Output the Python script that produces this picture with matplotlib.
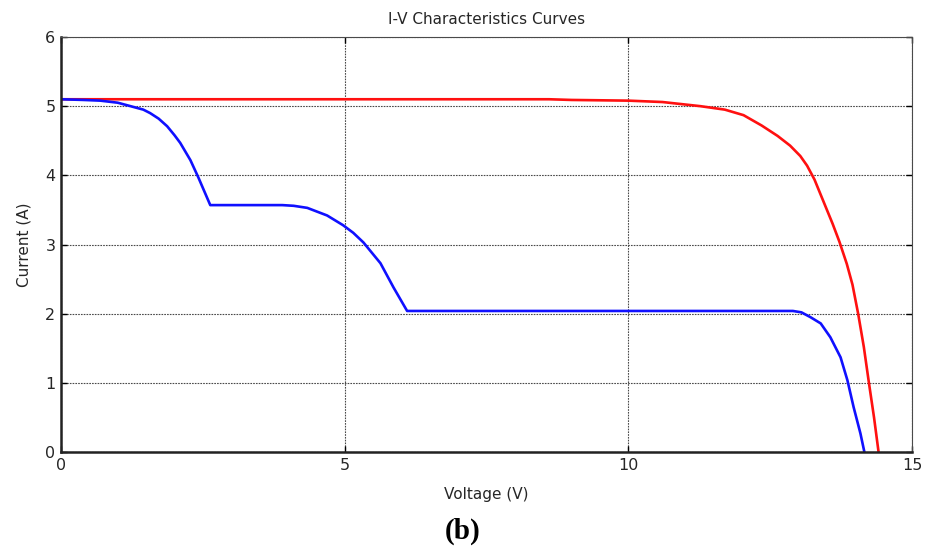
import matplotlib.pyplot as plt

# uniform-irradiance curve (red)
v_red = [0, 2, 4, 6, 8, 8.6, 9.0, 10.0, 10.6, 11.27, 11.7, 12.03, 12.35, 12.63,
         12.85, 13.03, 13.15, 13.28, 13.44, 13.6, 13.72, 13.85, 13.95, 14.05,
         14.15, 14.24, 14.33, 14.41]
i_red = [5.1, 5.1, 5.1, 5.1, 5.1, 5.1, 5.09, 5.08, 5.06, 5.0, 4.95, 4.87, 4.72, 4.57,
         4.43, 4.28, 4.14, 3.94, 3.62, 3.3, 3.04, 2.72, 2.42, 2.0,
         1.52, 1.0, 0.5, 0.0]

# partially shaded curve (blue)
v_blue = [0, 0.4, 0.69, 1.0, 1.27, 1.45, 1.57, 1.72, 1.87, 2.0, 2.1, 2.28, 2.42, 2.63,
          3.9, 4.1, 4.34, 4.69, 4.97, 5.15, 5.33, 5.63, 5.86, 6.10,
          12.9, 13.05, 13.21, 13.39, 13.56, 13.74, 13.86, 13.97, 14.09, 14.16]
i_blue = [5.1, 5.09, 5.08, 5.05, 4.99, 4.95, 4.9, 4.82, 4.71, 4.58, 4.47, 4.22, 3.97, 3.57,
          3.57, 3.56, 3.53, 3.42, 3.28, 3.17, 3.03, 2.73, 2.38, 2.04,
          2.04, 2.02, 1.95, 1.86, 1.66, 1.37, 1.04, 0.65, 0.27, 0.0]

xticks = [0, 5, 10, 15]
yticks = [0, 1, 2, 3, 4, 5, 6]

plt.rcParams['font.family'] = ['DejaVu Sans']
txt = '#262626'

fig = plt.figure(figsize=(9.25, 5.48), dpi=100)
ax = fig.add_axes([0.066, 0.175, 0.92, 0.7575])

ax.plot(v_red, i_red, color='#ff1010', lw=1.9)
ax.plot(v_blue, i_blue, color='#1010ff', lw=1.9)

ax.set_xlim(0, 15)
ax.set_ylim(0, 6)
ax.set_xticks(xticks)
ax.set_yticks(yticks)
ax.grid(True, color='#4a4a4a', linestyle=(0, (1.5, 1)), linewidth=0.8)
ax.set_axisbelow(True)

ax.tick_params(direction='in', length=4, width=1, top=True, right=True,
               labelsize=11.5, labelcolor=txt, pad=4)
for s in ['left', 'bottom']:
    ax.spines[s].set_linewidth(1.8)
    ax.spines[s].set_color('#222222')
for s in ['top', 'right']:
    ax.spines[s].set_linewidth(0.8)
    ax.spines[s].set_color('#4a4a4a')
    ax.spines[s].set_linestyle((0, (1.5, 1)))

ax.set_title("I-V Characteristics Curves", fontsize=11, color=txt, pad=9)
ax.set_xlabel("Voltage (V)", fontsize=11, color=txt, labelpad=10)
ax.set_ylabel("Current (A)", fontsize=11, color=txt, labelpad=10)

fig.text(0.5, 0.031, "(b)", fontsize=21, fontweight='bold',
         family=['Liberation Serif', 'DejaVu Serif'], ha='center', va='center')

fig.savefig("out.png", dpi=100)
